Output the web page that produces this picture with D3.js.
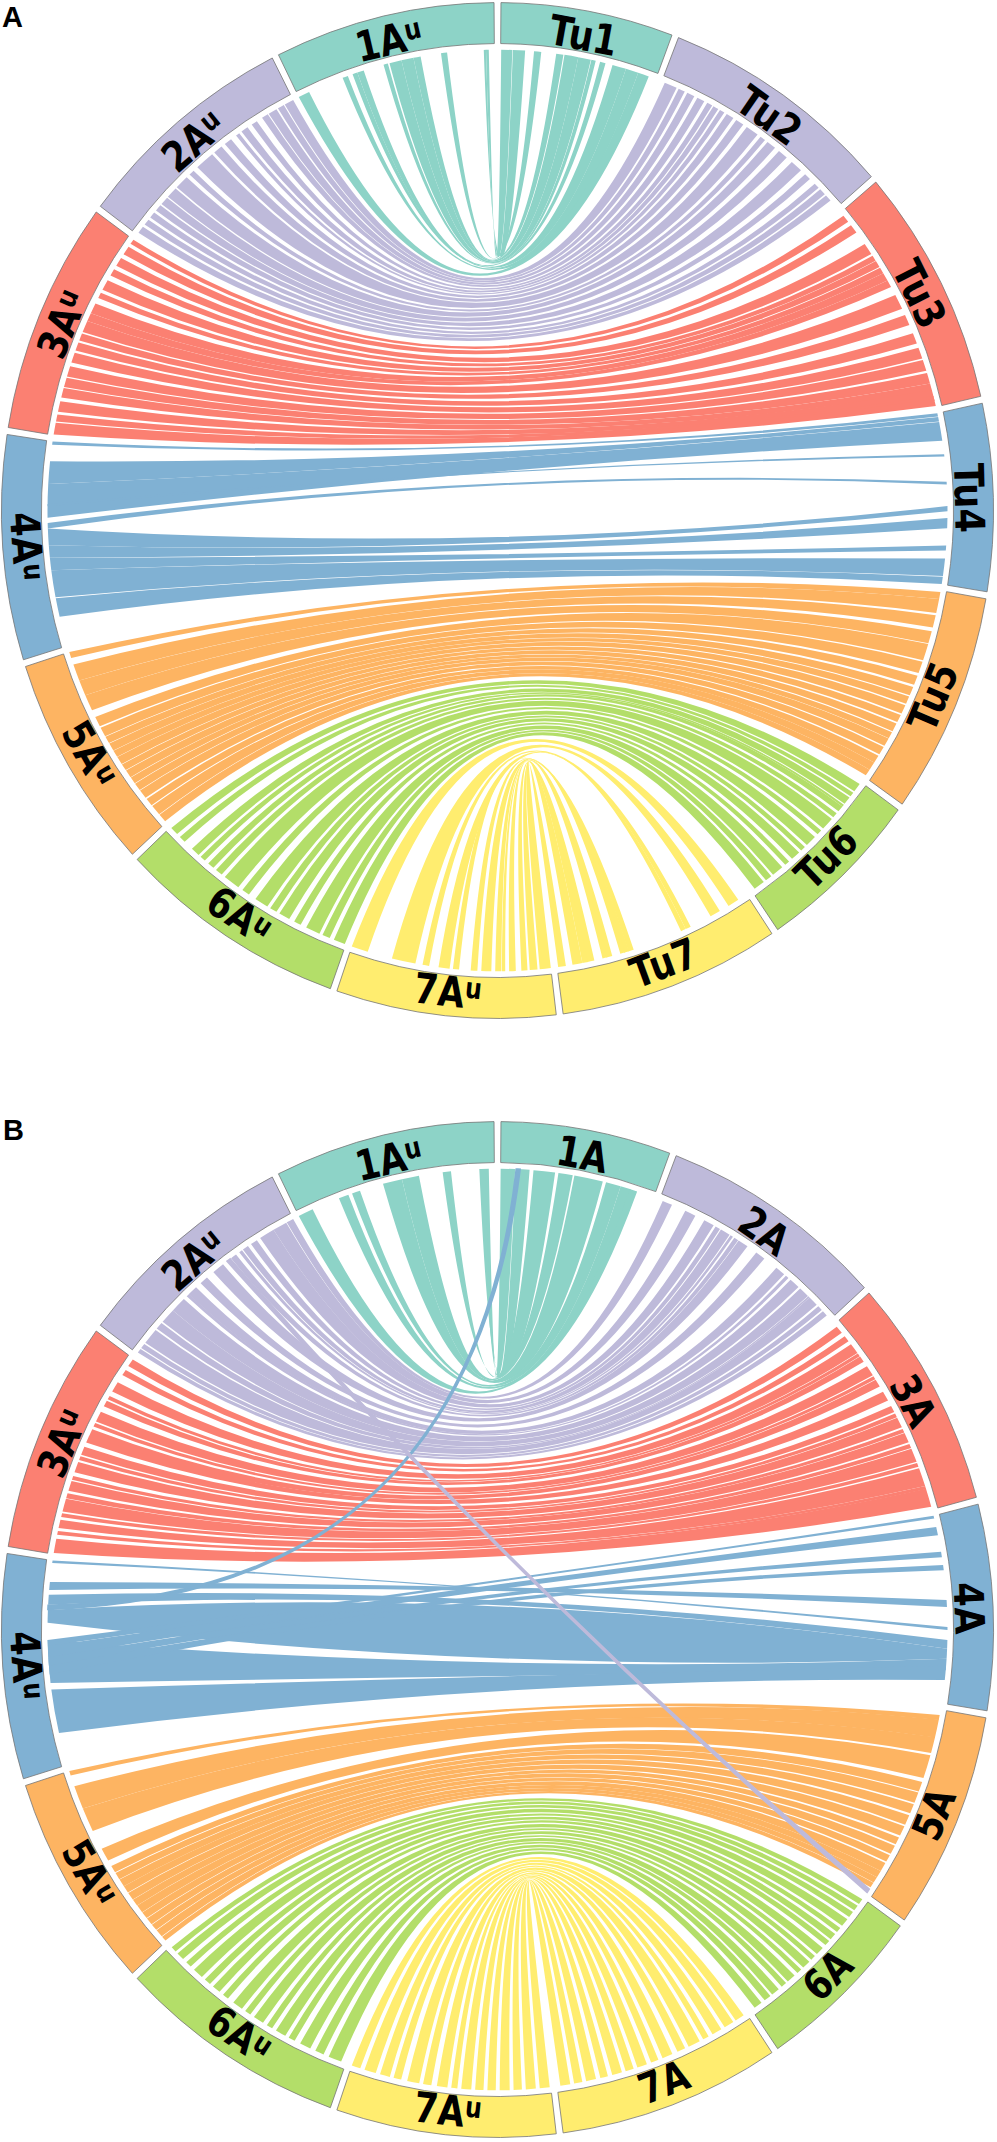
<!DOCTYPE html>
<html>
<head>
<meta charset="utf-8">
<script src="https://cdn.jsdelivr.net/npm/d3@7/dist/d3.min.js"></script>
<style>
  body { margin: 0; background: #fff; }
  svg { display: block; }
</style>
</head>
<body>
<svg id="chart" width="997" height="2142"></svg>
<script>
// chromosome lengths, Mb
var AU_LEN = [727, 738, 749, 724, 696, 758, 724];
var TU_LEN = [569, 775, 769, 603, 713, 549, 732];
var CS_LEN = [561, 749, 744, 662, 701, 561, 732];

var AU_LABELS = ['1A', '2A', '3A', '4A', '5A', '6A', '7A']; // + superscript u
var TU_LABELS = ['Tu1', 'Tu2', 'Tu3', 'Tu4', 'Tu5', 'Tu6', 'Tu7'];
var CS_LABELS = ['1A', '2A', '3A', '4A', '5A', '6A', '7A'];

var CHR_COLORS = ['#8dd3c7', '#bebada', '#fb8072', '#80b1d3', '#fdb462', '#b3de69', '#ffed6f'];

// synteny blocks [Au start, Au end, partner start, partner end] in Mb
// panel A : Au vs Tu
var synA1 = [[20, 30, 2, 42], [30, 38, 44, 88], [170, 192, 120, 146], [266, 292, 200, 226],
  [292, 336, 230, 280], [336, 380, 280, 326], [386, 402, 328, 344], [476, 500, 360, 380],
  [500, 518, 406, 456], [536, 556, 456, 502], [686, 727, 502, 542]];
var synA2 = [[0, 34, 12, 58], [38, 62, 66, 90], [68, 100, 100, 128], [104, 128, 140, 168],
  [150, 172, 180, 200], [190, 216, 205, 225], [226, 240, 232, 250], [262, 290, 260, 288],
  [305, 338, 300, 330], [348, 418, 345, 392], [436, 456, 405, 425], [470, 520, 436, 470],
  [526, 566, 488, 524], [570, 600, 548, 592], [606, 630, 612, 636], [640, 662, 660, 680],
  [672, 694, 688, 712], [704, 730, 718, 742]];
var synA3 = [[0, 18, 15, 42], [30, 62, 58, 90], [78, 110, 140, 182], [125, 150, 190, 210],
  [170, 208, 212, 236], [220, 240, 240, 262], [262, 300, 262, 292], [300, 330, 292, 318],
  [330, 372, 350, 404], [378, 404, 428, 466], [412, 442, 498, 536], [450, 486, 552, 592],
  [500, 538, 598, 638], [542, 576, 646, 684], [580, 614, 684, 712], [628, 665, 708, 736],
  [675, 700, 730, 748], [705, 747, 740, 766]];
var synA4 = [[0, 11, 0, 12], [70, 150, 14, 30], [150, 268, 32, 98], [220, 228, 146, 154],
  [286, 306, 243, 252], [306, 364, 328, 346], [364, 408, 370, 406], [408, 452, 466, 484],
  [452, 548, 512, 574], [552, 618, 576, 602]];
var synA5 = [[0, 22, 5, 30], [46, 106, 30, 80], [106, 162, 88, 132], [162, 220, 146, 190],
  [246, 282, 192, 252], [288, 322, 258, 300], [324, 350, 310, 344], [352, 380, 352, 384],
  [381, 406, 389, 416], [407, 436, 422, 454], [438, 462, 460, 488], [464, 492, 494, 524],
  [494, 518, 528, 552], [520, 548, 553, 583], [550, 582, 588, 618], [588, 616, 624, 652],
  [620, 658, 652, 682], [660, 690, 682, 706]];
var synA6 = [[4, 34, 8, 40], [48, 72, 46, 62], [108, 140, 68, 96], [150, 170, 100, 108],
  [186, 210, 108, 130], [222, 248, 140, 158], [262, 322, 166, 212], [340, 368, 222, 240],
  [396, 446, 254, 294], [458, 484, 304, 322], [496, 536, 332, 366], [556, 582, 380, 398],
  [604, 656, 412, 454], [668, 696, 462, 486], [712, 754, 496, 536]];
var synA7 = [[0, 60, 35, 76], [150, 236, 112, 150], [262, 286, 230, 250], [320, 360, 250, 268],
  [372, 394, 450, 470], [436, 460, 468, 486], [474, 510, 482, 500], [524, 546, 530, 552],
  [548, 560, 548, 566], [574, 598, 596, 624], [618, 640, 620, 640], [648, 676, 640, 676],
  [684, 724, 700, 728]];

// panel B : Au vs A subgenome
var synB1 = [[20, 46, 0, 52], [34, 54, 54, 104], [156, 186, 118, 196], [272, 334, 208, 260],
  [334, 404, 266, 370], [490, 520, 382, 436], [534, 570, 436, 474], [672, 727, 470, 498]];
var synB2 = [[0, 26, 12, 48], [28, 80, 100, 140], [80, 136, 176, 214], [150, 175, 222, 240],
  [188, 210, 244, 280], [214, 226, 284, 294], [240, 262, 300, 316], [298, 342, 318, 356],
  [372, 402, 394, 430], [424, 460, 484, 520], [458, 470, 528, 540], [484, 540, 550, 588],
  [540, 594, 596, 634], [600, 626, 636, 642], [632, 690, 642, 678], [696, 714, 686, 704],
  [718, 734, 710, 730]];
var synB3 = [[4, 32, 12, 40], [48, 70, 56, 78], [100, 138, 92, 130], [156, 170, 132, 144],
  [176, 198, 146, 168], [220, 258, 188, 226], [264, 278, 230, 242], [288, 318, 244, 272],
  [314, 340, 294, 330], [356, 386, 352, 376], [392, 406, 382, 396], [414, 452, 398, 436],
  [466, 480, 442, 456], [484, 520, 458, 494], [530, 548, 500, 516], [550, 596, 518, 568],
  [602, 616, 572, 586], [626, 656, 592, 658], [666, 680, 658, 670], [694, 745, 668, 734]];
var synB4 = [[0, 9, 394, 404], [76, 104, 299, 324], [121, 156, 439, 470], [174, 219, 470, 505],
  [279, 430, 505, 545], [453, 608, 530, 580], [279, 300, 0, 10], [300, 340, 40, 70],
  [340, 370, 129, 148], [370, 400, 176, 194]];
var synB5 = [[0, 16, 19, 37], [56, 140, 35, 100], [140, 226, 98, 156], [296, 344, 164, 248],
  [366, 392, 262, 298], [395, 420, 302, 340], [422, 450, 346, 380], [450, 476, 388, 424],
  [478, 506, 430, 466], [507, 532, 474, 500], [533, 562, 506, 538], [563, 588, 544, 570],
  [590, 616, 576, 608], [618, 642, 608, 634], [644, 672, 634, 656], [674, 692, 657, 676]];
var synB6 = [[6, 26, 4, 24], [36, 64, 32, 52], [80, 102, 60, 82], [118, 156, 92, 122],
  [170, 194, 132, 150], [208, 238, 160, 184], [254, 276, 192, 212], [300, 338, 226, 256],
  [352, 374, 266, 284], [390, 428, 294, 324], [444, 466, 334, 352], [482, 520, 366, 398],
  [534, 558, 406, 426], [580, 620, 440, 470], [640, 672, 478, 504], [692, 740, 518, 548]];
var synB7 = [[0, 32, 12, 46], [48, 90, 56, 92], [106, 142, 106, 142], [156, 184, 158, 180],
  [206, 250, 194, 238], [264, 294, 252, 282], [314, 352, 302, 340], [366, 388, 356, 384],
  [402, 438, 400, 436], [452, 482, 450, 480], [496, 526, 494, 530], [540, 576, 546, 574],
  [590, 620, 590, 626], [634, 670, 640, 670], [684, 720, 684, 720]];

// inter-chromosomal links in panel B: [Au chr, start, end, A chr, start, end]
var translocB = [[4, 158, 172, 1, 56, 70], [2, 266, 280, 5, 684, 698]];

// geometry
var CX = 497.5, CY_A = 510.5, CY_B = 1629.5, STRETCH = 1.024;
var R_OUT = 496, R_IN = 456, R_LABEL = 472, R_LINK = 450, R_BEZ = 45;
var GAP = 0.8 * Math.PI / 180;

var svg = d3.select('#chart');

function angleLayout(leftLen, rightLen) {
	var total = d3.sum(leftLen) + d3.sum(rightLen),
	k = (2 * Math.PI - 14 * GAP) / total,
	a = GAP / 2, right = [], left = [];
	rightLen.forEach(function(len) {
		var s = a, e = a + len * k;
		right.push({start: s, end: e, scale: d3.scaleLinear().domain([0, len]).range([s, e])});
		a = e + GAP;
	});
	// Au chromosomes run back up the left side, reversed
	for (var i = leftLen.length - 1; i >= 0; i--) {
		var s = a, e = a + leftLen[i] * k;
		left[i] = {start: s, end: e, scale: d3.scaleLinear().domain([0, leftLen[i]]).range([e, s])};
		a = e + GAP;
	}
	return {left: left, right: right};
}

function pt(a, r) {
	return [r * Math.sin(a), -r * Math.cos(a)];
}

function midAngle(a, b) {
	var t = 2 * Math.PI, d = (((b - a) % t) + 1.5 * t) % t - Math.PI;
	return a + d / 2;
}

// a1 > a2 on the Au side, b1 < b2 on the partner side
function ribbon(a1, a2, b1, b2) {
	var p = d3.path(), h = Math.PI / 2, s, c;
	s = pt(a2, R_LINK);
	p.moveTo(s[0], s[1]);
	p.arc(0, 0, R_LINK, a2 - h, a1 - h, false);
	c = pt(midAngle(a1, b1), R_BEZ); s = pt(b1, R_LINK);
	p.quadraticCurveTo(c[0], c[1], s[0], s[1]);
	p.arc(0, 0, R_LINK, b1 - h, b2 - h, false);
	c = pt(midAngle(b2, a2), R_BEZ); s = pt(a2, R_LINK);
	p.quadraticCurveTo(c[0], c[1], s[0], s[1]);
	p.closePath();
	return p.toString();
}

function drawPanel(cy, rightLen, rightLabels, links, transloc) {
	var lay = angleLayout(AU_LEN, rightLen),
	g = svg.append('g').attr('transform', 'translate(' + CX + ',' + cy + ') scale(1,' + STRETCH + ')'),
	arc = d3.arc().innerRadius(R_IN).outerRadius(R_OUT);

	var lg = g.append('g').attr('class', 'links');
	links.forEach(function(blocks, i) {
		lg.append('g').selectAll('path').data(blocks).enter().append('path')
		.attr('d', function(d) {
			return ribbon(lay.left[i].scale(d[0]), lay.left[i].scale(d[1]),
				lay.right[i].scale(d[2]), lay.right[i].scale(d[3]));
		})
		.attr('fill', CHR_COLORS[i]);
	});
	// single inter-chromosomal links, drawn on top
	lg.append('g').selectAll('path').data(transloc).enter().append('path')
	.attr('d', function(d) {
		var L = lay.left[d[0] - 1], R = lay.right[d[3] - 1];
		return ribbon(L.scale(d[1]), L.scale(d[2]), R.scale(d[4]), R.scale(d[5]));
	})
	.attr('fill', function(d) { return CHR_COLORS[d[0] - 1]; })
	.attr('stroke', function(d) { return CHR_COLORS[d[0] - 1]; })
	.attr('stroke-width', 1.6);

	var segs = lay.right.map(function(s, i) { return {seg: s, chr: i, label: rightLabels[i], sup: false}; })
	.concat(lay.left.map(function(s, i) { return {seg: s, chr: i, label: AU_LABELS[i], sup: true}; }));

	g.append('g').selectAll('path').data(segs).enter().append('path')
	.attr('d', function(d) { return arc({startAngle: d.seg.start, endAngle: d.seg.end}); })
	.attr('fill', function(d) { return CHR_COLORS[d.chr]; })
	.attr('stroke', '#777')
	.attr('stroke-width', 0.8);

	g.append('g').selectAll('text').data(segs).enter().append('text')
	.attr('transform', function(d) {
		var m = (d.seg.start + d.seg.end) / 2, deg = m * 180 / Math.PI, rot = deg;
		if (deg > 90 && deg < 270) rot = deg - 180;
		else if (deg >= 270) rot = deg - 360;
		return 'translate(' + pt(m, R_LABEL) + ') rotate(' + rot + ') scale(0.84,1)';
	})
	.attr('text-anchor', 'middle')
	.attr('y', 14.5)
	.style('font-family', '"DejaVu Sans", Verdana, sans-serif')
	.style('font-weight', 'bold')
	.style('font-size', '41px')
	.style('fill', '#000')
	.each(function(d) {
		var t = d3.select(this);
		t.append('tspan').text(d.label);
		if (d.sup) t.append('tspan').attr('dy', -10).style('font-size', '28px').text('u');
	});
}

drawPanel(CY_A, TU_LEN, TU_LABELS, [synA1, synA2, synA3, synA4, synA5, synA6, synA7], []);
drawPanel(CY_B, CS_LEN, CS_LABELS, [synB1, synB2, synB3, synB4, synB5, synB6, synB7], translocB);

svg.selectAll('text.panel').data([['A', 2, 27], ['B', 3, 1140]]).enter().append('text')
.attr('class', 'panel')
.attr('x', function(d) { return d[1]; })
.attr('y', function(d) { return d[2]; })
.style('font-family', '"Liberation Sans", Arial, sans-serif')
.style('font-weight', 'bold')
.style('font-size', '29px')
.text(function(d) { return d[0]; });
</script>
</body>
</html>
